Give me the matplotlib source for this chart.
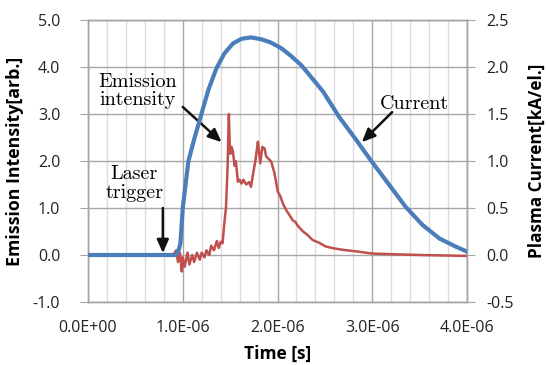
import matplotlib
matplotlib.use("Agg")
import matplotlib.pyplot as plt
import numpy as np

# Time in microseconds (axis shows seconds)
t_current = [0.0, 0.5, 0.92, 0.95, 0.975, 1.0, 1.03, 1.06, 1.12, 1.197, 1.27, 1.355, 1.44,
             1.53, 1.62, 1.72, 1.83, 1.93, 2.04, 2.14, 2.25, 2.30, 2.48, 2.65, 2.83,
             2.99, 3.18, 3.35, 3.53, 3.71, 3.88, 3.99, 4.0]
current = [0.0, 0.0, 0.0, 0.03, 0.12, 0.50, 0.75, 1.00, 1.23, 1.50, 1.755, 1.985, 2.145,
           2.25, 2.30, 2.315, 2.295, 2.26, 2.20, 2.12, 2.02, 1.96, 1.74, 1.47, 1.225,
           1.00, 0.745, 0.515, 0.32, 0.175, 0.09, 0.04, 0.035]

t_emission = [0.0, 0.9, 0.93, 0.95, 0.97, 0.99, 1.0, 1.02, 1.05, 1.07, 1.1, 1.12, 1.15,
              1.18, 1.2, 1.23, 1.25, 1.28, 1.3, 1.33, 1.36, 1.38, 1.4,
              1.42, 1.44, 1.456, 1.474, 1.48, 1.487, 1.495, 1.502, 1.515, 1.53, 1.547,
              1.56, 1.582, 1.6, 1.62, 1.64, 1.67, 1.7, 1.72, 1.74, 1.768, 1.793, 1.805,
              1.818, 1.84, 1.863, 1.88, 1.898, 1.933, 1.968, 2.003, 2.03, 2.056, 2.09,
              2.126, 2.16, 2.19, 2.214, 2.27, 2.32, 2.37, 2.44, 2.51, 2.6, 2.69, 2.86,
              3.0, 3.5, 4.0]
emission = [0.0, 0.0, 0.1, -0.15, 0.05, -0.35, -0.05, -0.25, 0.05, -0.2, 0.0, -0.15, 0.05,
            -0.1, 0.05, -0.05, 0.1, 0.0, 0.2, 0.1, 0.3, 0.15, 0.28,
            0.25, 0.7, 1.0, 1.9, 2.5, 3.0, 2.4, 2.15, 2.3, 2.2, 1.9,
            2.0, 1.56, 1.6, 1.52, 1.6, 1.5, 1.55, 1.45, 1.7, 2.02, 2.41, 2.2,
            1.95, 2.3, 2.27, 2.1, 2.06, 1.99, 1.74, 1.35, 1.25, 1.1, 0.96,
            0.85, 0.74, 0.7, 0.62, 0.5, 0.42, 0.32, 0.26, 0.18, 0.14, 0.11, 0.07,
            0.03, 0.0, -0.02]

x_ticks = [0.0, 1.0e-6, 2.0e-6, 3.0e-6, 4.0e-6]
x_tick_labels = ["0.0E+00", "1.0E-06", "2.0E-06", "3.0E-06", "4.0E-06"]
left_ticks = [-1.0, 0.0, 1.0, 2.0, 3.0, 4.0, 5.0]
right_ticks = [-0.5, 0.0, 0.5, 1.0, 1.5, 2.0, 2.5]

RED = "#c0504d"
BLUE = "#4a7ebb"
GRID = "#a6a6a6"
MINOR = "#dcdcdc"
TICKFONT = "Open Sans"
SERIF = "cmr10"

fig = plt.figure(figsize=(5.47, 3.65), dpi=100)
ax = fig.add_axes([88/547, 63/365, 379/547, 282/365])
ax2 = ax.twinx()

te = np.array(t_emission) * 1e-6
tc = np.array(t_current) * 1e-6

ax.plot(te, emission, color=RED, lw=1.8, zorder=3)
ax2.plot(tc, current, color=BLUE, lw=3.0, zorder=3, solid_joinstyle="round")

ax.set_xlim(0, 4.0e-6)
ax.set_ylim(-1.0, 5.0)
ax2.set_ylim(-0.5, 2.5)

ax.set_xticks(x_ticks)
ax.set_xticklabels(x_tick_labels)
ax.set_xticks(np.arange(0, 4.0e-6 + 1e-9, 0.2e-6), minor=True)
ax.set_yticks(left_ticks)
ax.set_yticklabels([f"{v:.1f}" for v in left_ticks])
ax2.set_yticks(right_ticks)
ax2.set_yticklabels([f"{v:.1f}" for v in right_ticks])

ax.grid(which="minor", axis="x", color=MINOR, lw=1.0, zorder=0)
ax.grid(which="major", axis="x", color=GRID, lw=1.0, zorder=0)
ax.grid(which="major", axis="y", color=GRID, lw=1.0, zorder=0)
ax.set_axisbelow(True)

for a in (ax, ax2):
    for s in a.spines.values():
        s.set_color(GRID)
        s.set_linewidth(1.0)

ax.tick_params(axis="x", which="both", length=0, pad=13, labelsize=11.5, labelcolor="#222222")
ax.tick_params(axis="y", length=6, color=GRID, pad=14, labelsize=11.5, labelcolor="#222222")
ax2.tick_params(axis="y", length=6, color=GRID, pad=8, labelsize=11.5, labelcolor="#222222")
for lab in ax.get_xticklabels() + ax.get_yticklabels() + ax2.get_yticklabels():
    lab.set_fontfamily(TICKFONT)

ax.set_xlabel("Time [s]", fontsize=12.5, fontweight="bold", family=TICKFONT, labelpad=6)
ax.set_ylabel("Emission Intensity[arb.]", fontsize=12.8, fontweight="bold", family=TICKFONT, labelpad=6)
ax2.set_ylabel("Plasma Current[kA/el.]", fontsize=12.3, fontweight="bold", family=TICKFONT, labelpad=10)

ARROW = dict(arrowstyle="-|>,head_length=0.8,head_width=0.35", color="#111111",
             lw=1.8, shrinkA=0, shrinkB=0)

ax.text(0.52e-6, 3.49, "Emission\nintensity", ha="center", va="center",
        fontsize=14.5, family=SERIF, linespacing=1.05)
ax.annotate("", xy=(1.41e-6, 2.40), xytext=(1.0e-6, 3.15), arrowprops=ARROW)

ax.text(0.49e-6, 1.52, "Laser\ntrigger", ha="center", va="center",
        fontsize=14.5, family=SERIF, linespacing=1.05)
ax.annotate("", xy=(0.79e-6, 0.04), xytext=(0.79e-6, 1.0), arrowprops=ARROW)

ax.text(3.44e-6, 3.21, "Current", ha="center", va="center",
        fontsize=14.5, family=SERIF)
ax.annotate("", xy=(2.89e-6, 2.40), xytext=(3.21e-6, 3.04), arrowprops=ARROW)

fig.savefig("out.png", dpi=100)
